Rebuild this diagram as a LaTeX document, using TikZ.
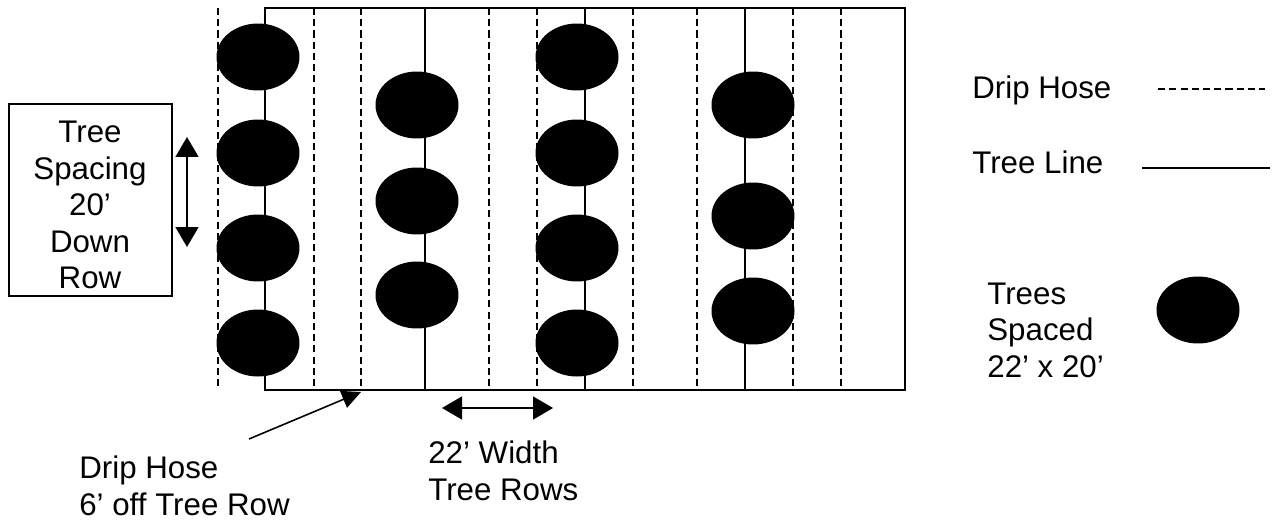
\documentclass[tikz,border=0pt]{standalone}
\usepackage{fontspec}
\setmainfont{Liberation Sans}
\usepackage{tikz}
\usetikzlibrary{shapes.geometric, arrows.meta, positioning}
\tikzstyle{TreeBall}=[ellipse,
		minimum width = 1.66cm,
		minimum height = 1.34cm,
		inner sep = 0pt,
		fill=black]
\tikzstyle{HoseLine}=[line width=1.1pt, dash pattern=on 4pt off 2.4pt]
\tikzstyle{RowLine}=[line width=1pt]
\tikzstyle{Caption}=[inner sep=0pt, align=left,
		font=\fontsize{17.8}{20.8}\selectfont]
\tikzstyle{Span}=[{Triangle[length=0.4cm,width=0.46cm]}-{Triangle[length=0.4cm,width=0.46cm]}, line width=0.9pt]

\begin{document}
\begin{tikzpicture}[x=0.02cm,y=-0.02cm]
  \useasboundingbox (0,0) rectangle (1274,521);

  % field outline and tree lines
  \draw [RowLine] (265,8) rectangle (905,390);
  \draw [RowLine] (425,8) -- (425,390);
  \draw [RowLine] (585,8) -- (585,390);
  \draw [RowLine] (745,8) -- (745,390);

  % drip hoses
  \draw [HoseLine] (218,8) -- (218,390);
  \draw [HoseLine] (314,8) -- (314,390);
  \draw [HoseLine] (361,8) -- (361,390);
  \draw [HoseLine] (489,8) -- (489,390);
  \draw [HoseLine] (537,8) -- (537,390);
  \draw [HoseLine] (633,8) -- (633,390);
  \draw [HoseLine] (697,8) -- (697,390);
  \draw [HoseLine] (793,8) -- (793,390);
  \draw [HoseLine] (841,8) -- (841,390);

  % trees
  \node [TreeBall] (a1) at (258,57) {};
  \node [TreeBall] (a2) at (258,153) {};
  \node [TreeBall] (a3) at (258,248) {};
  \node [TreeBall] (a4) at (258,343) {};
  \node [TreeBall] (b1) at (417,105) {};
  \node [TreeBall] (b2) at (417,201) {};
  \node [TreeBall] (b3) at (417,295) {};
  \node [TreeBall] (c1) at (577,57) {};
  \node [TreeBall] (c2) at (577,153) {};
  \node [TreeBall] (c3) at (577,248) {};
  \node [TreeBall] (c4) at (577,343) {};
  \node [TreeBall] (d1) at (753,105) {};
  \node [TreeBall] (d2) at (753,216) {};
  \node [TreeBall] (d3) at (753,311) {};

  % spacing box
  \node [draw,line width=1pt,minimum width=3.26cm,minimum height=3.84cm] (spbox) at (90.5,200) {};
  \node [Caption,align=center] (sptxt) at (90,205) {Tree\\Spacing\\20’\\Down\\Row};
  \coordinate (spTop) at (187,137);
  \coordinate (spBot) at (187,247);
  \draw [Span] (spTop) -- (spBot);

  % width arrow
  \coordinate (wLeft) at (442,408);
  \coordinate (wRight) at (553,408);
  \draw [Span] (wLeft) -- (wRight);
  \node [Caption,anchor=west] (width) at (428,471) {22’ Width\\Tree Rows};

  % hose pointer
  \node [Caption,anchor=west] (hose) at (79,486) {Drip Hose\\6’ off Tree Row};
  \coordinate (hStart) at (249,439);
  \coordinate (hTip) at (361,392);
  \draw [line width=0.9pt,-{Triangle[length=0.38cm,width=0.36cm]}] (hStart) -- (hTip);

  % legend
  \node [Caption,anchor=west] (lgHose) at (972,90) {Drip Hose};
  \node [Caption,anchor=west] (lgRow) at (972,162) {Tree Line};
  \node [Caption,anchor=west] (lgTree) at (987,330) {Trees\\Spaced\\22’ x 20’};
  \draw [HoseLine,line width=0.9pt] (1158,89) -- (1265,89);
  \draw [RowLine] (1142,168) -- (1270,168);
  \node [TreeBall] (lgBall) at (1198,310) {};

\end{tikzpicture}
\end{document}
